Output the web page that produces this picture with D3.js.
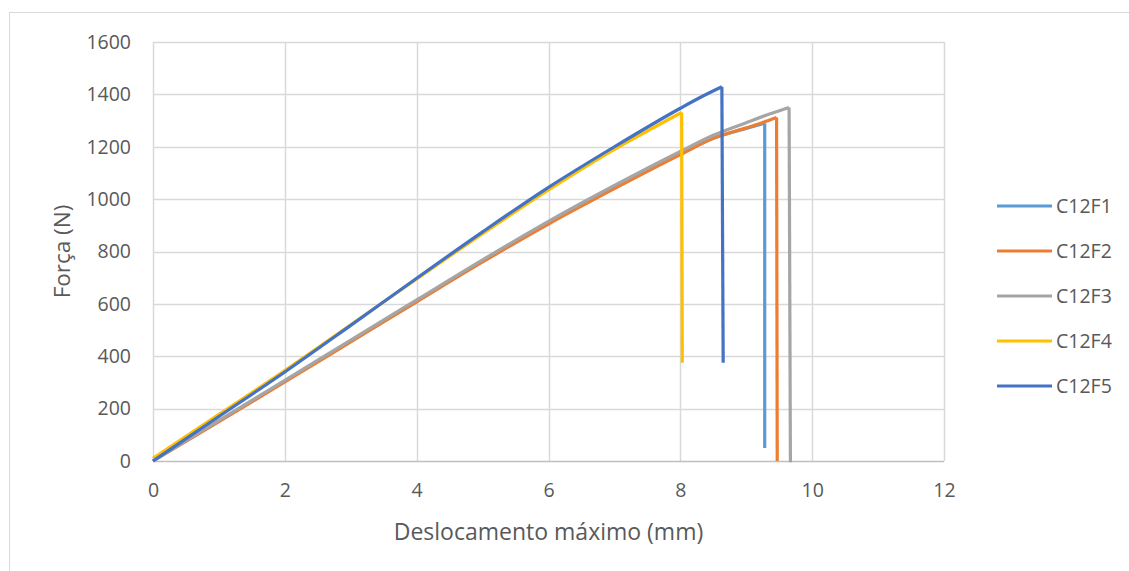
<!DOCTYPE html>
<html>
<head>
<meta charset="utf-8">
<script src="https://cdn.jsdelivr.net/npm/d3@7"></script>
<style>
  body { margin: 0; background: #fff; }
  text { font-family: "Open Sans", "Liberation Sans", sans-serif; fill: #595959; }
</style>
</head>
<body>
<div id="chart"></div>
<script>
// series names and colours
var seriesNames = ["C12F1", "C12F2", "C12F3", "C12F4", "C12F5"];
var seriesColors = ["#5B9BD5", "#ED7D31", "#A5A5A5", "#FFC000", "#4472C4"];

// [deslocamento (mm), força (N)]
var c12f1 = [[0,0],[1,152],[2,305],[3,458],[4,610],[5,762],[6,908],[7,1045],[8,1172],[8.5,1232],[9,1270],[9.28,1290],[9.28,50]];
var c12f2 = [[0,0],[1,150],[2,302],[3,455],[4,608],[5,760],[6,905],[7,1040],[8,1170],[8.5,1232],[9,1272],[9.25,1293],[9.46,1312],[9.47,0]];
var c12f3 = [[0,0],[1,155],[2,308],[3,462],[4,615],[5,768],[6,915],[7,1052],[8,1182],[8.5,1244],[9,1292],[9.3,1320],[9.65,1350],[9.67,-5]];
var c12f4 = [[0,10],[1,178],[2,345],[3,520],[4,695],[5,868],[6,1035],[7,1190],[8.02,1331],[8.03,375]];
var c12f5 = [[0,0],[1,170],[2,340],[3,518],[4,698],[5,875],[6,1045],[7,1200],[8,1347],[8.3,1388],[8.63,1429],[8.65,375]];
var allSeries = [c12f1, c12f2, c12f3, c12f4, c12f5];

var xTicks = [0, 2, 4, 6, 8, 10, 12];
var yTicks = [0, 200, 400, 600, 800, 1000, 1200, 1400, 1600];

var width = 1129, height = 571;

var svg = d3.select("#chart").append("svg")
  .attr("width", width)
  .attr("height", height);

// chart frame
svg.append("rect")
  .attr("x", 9.5).attr("y", 12.5)
  .attr("width", 1130).attr("height", 570)
  .attr("fill", "none").attr("stroke", "#d9d9d9");

var x = d3.scaleLinear().domain([0, 12]).range([153, 944]);
var y = d3.scaleLinear().domain([0, 1600]).range([461, 42]);

// gridlines
svg.append("g").selectAll("line.h")
  .data(yTicks.slice(1)).enter().append("line")
  .attr("x1", x(0)).attr("x2", x(12))
  .attr("y1", function(d) { return Math.round(y(d)) + 0.5; })
  .attr("y2", function(d) { return Math.round(y(d)) + 0.5; })
  .attr("stroke", "#d9d9d9").attr("stroke-width", 1.5);

svg.append("g").selectAll("line.v")
  .data(xTicks).enter().append("line")
  .attr("y1", y(0)).attr("y2", y(1600))
  .attr("x1", function(d) { return Math.round(x(d)) + 0.5; })
  .attr("x2", function(d) { return Math.round(x(d)) + 0.5; })
  .attr("stroke", "#d9d9d9").attr("stroke-width", 1.5);

// base axis line
svg.append("line")
  .attr("x1", x(0)).attr("x2", x(12))
  .attr("y1", Math.round(y(0)) + 0.5).attr("y2", Math.round(y(0)) + 0.5)
  .attr("stroke", "#bfbfbf").attr("stroke-width", 1.5);

// tick labels via axes
var xAxis = svg.append("g")
  .attr("transform", "translate(0," + (y(0) + 8) + ")")
  .call(d3.axisBottom(x).tickValues(xTicks).tickSize(0).tickPadding(14).tickFormat(d3.format("d")));
var yAxis = svg.append("g")
  .attr("transform", "translate(" + (x(0) - 22) + ",0)")
  .call(d3.axisLeft(y).tickValues(yTicks).tickSize(0).tickPadding(0).tickFormat(d3.format("d")));
[xAxis, yAxis].forEach(function(a) {
  a.select(".domain").remove();
  a.selectAll("text").style("font-size", "19.5px").attr("fill", "#595959")
    .style("font-family", "'Open Sans', sans-serif");
});

// axis titles
svg.append("text")
  .attr("x", (x(0) + x(12)) / 2).attr("y", 540)
  .attr("text-anchor", "middle")
  .style("font-size", "23px")
  .text("Deslocamento máximo (mm)");

svg.append("text")
  .attr("transform", "translate(70," + y(800) + ") rotate(-90)")
  .attr("text-anchor", "middle")
  .style("font-size", "22.5px")
  .text("Força (N)");

// series lines
var line = d3.line()
  .x(function(d) { return x(d[0]); })
  .y(function(d) { return y(d[1]); })
  .curve(d3.curveMonotoneX);
var dropLine = d3.line()
  .x(function(d) { return x(d[0]); })
  .y(function(d) { return y(d[1]); });

allSeries.forEach(function(s, i) {
  var rising = s.slice(0, s.length - 1);
  var drop = s.slice(s.length - 2);
  var g = svg.append("g");
  g.append("path")
    .attr("d", line(rising))
    .attr("fill", "none")
    .attr("stroke", seriesColors[i])
    .attr("stroke-width", 3.2)
    .attr("stroke-linejoin", "round");
  g.append("path")
    .attr("d", dropLine(drop))
    .attr("fill", "none")
    .attr("stroke", seriesColors[i])
    .attr("stroke-width", 3.2);
});

// legend
var legend = svg.append("g").selectAll("g")
  .data(seriesNames).enter().append("g")
  .attr("transform", function(d, i) { return "translate(997," + (206 + i * 45) + ")"; });
legend.append("line")
  .attr("x1", 0).attr("x2", 55)
  .attr("stroke", function(d, i) { return seriesColors[i]; })
  .attr("stroke-width", 3.2);
legend.append("text")
  .attr("x", 59).attr("y", 7)
  .style("font-size", "19.5px")
  .text(function(d) { return d; });
</script>
</body>
</html>
